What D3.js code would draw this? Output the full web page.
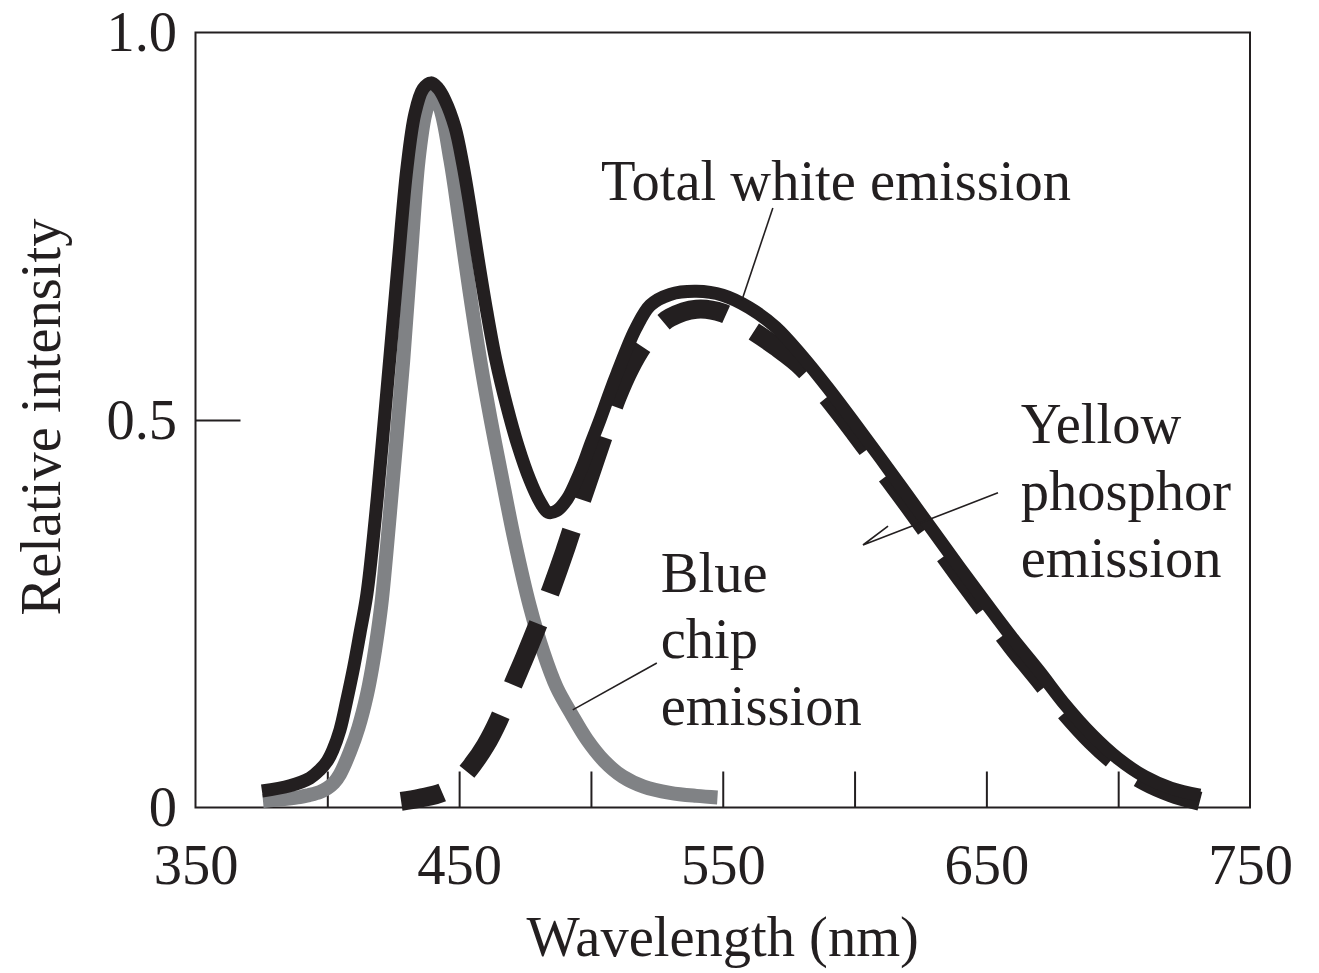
<!DOCTYPE html>
<html>
<head>
<meta charset="utf-8">
<script src="https://cdnjs.cloudflare.com/ajax/libs/d3/7.8.5/d3.min.js"></script>
<style>
  body { margin: 0; background: #fff; }
  svg text { font-family: "Liberation Serif", "Times New Roman", serif; fill: #231f20; }
</style>
</head>
<body>
<div id="chart"></div>
<script>
// values (wavelength in nm, relative intensity)
let wlBlue = [375.6, 389.6, 393, 397.2, 400, 402.5, 404.8, 408.6, 411.8, 415, 417, 419.2, 420.7, 424.8, 428.8, 431.7, 434.6, 437.2, 439.7, 442.5, 446.7, 450, 454, 458, 462, 466, 471, 476.8, 482, 487, 492.7, 498.4, 505, 512, 520, 530, 540, 548];
let blueChip = [0.0084, 0.0135, 0.016, 0.02, 0.025, 0.032, 0.043, 0.072, 0.103, 0.145, 0.18, 0.228, 0.268, 0.42, 0.577, 0.71, 0.835, 0.895, 0.919, 0.905, 0.835, 0.76, 0.665, 0.577, 0.50, 0.43, 0.345, 0.26, 0.20, 0.155, 0.12, 0.088, 0.06, 0.04, 0.027, 0.019, 0.015, 0.013];

let wlYellow = [428, 435, 444, 450, 455, 460, 465, 470, 475, 480, 485, 490, 495, 500, 505, 510, 515, 520, 525, 530, 540, 550, 560, 570, 580, 590, 600, 610, 620, 630, 640, 650, 660, 670, 680, 690, 700, 710, 720, 731];
let yellowPhosphor = [0.008, 0.012, 0.02, 0.035, 0.055, 0.08, 0.113, 0.155, 0.195, 0.237, 0.282, 0.33, 0.382, 0.432, 0.482, 0.53, 0.568, 0.597, 0.618, 0.632, 0.643, 0.638, 0.618, 0.595, 0.568, 0.528, 0.484, 0.438, 0.392, 0.345, 0.298, 0.252, 0.207, 0.165, 0.123, 0.086, 0.056, 0.034, 0.019, 0.008];

let wlTotal = [375.2, 385.8, 393.4, 397, 400, 402.1, 404.8, 407.4, 410.1, 412.4, 415, 418.1, 420.7, 423.7, 426.8, 430.2, 433.2, 436.3, 439.3, 442, 444.6, 448.4, 451.4, 454.1, 457.1, 460.5, 463.9, 468.1, 472.3, 476.8, 480.6, 483.7, 487, 491, 494, 497, 500, 503.4, 507, 510, 513.6, 517, 522.5, 530, 540, 550, 560, 570, 580, 590, 600, 610, 620, 630, 640, 650, 660, 670, 680, 690, 700, 710, 720, 731];
let totalWhite = [0.0213, 0.028, 0.038, 0.048, 0.06, 0.074, 0.10, 0.1387, 0.1826, 0.2252, 0.275, 0.37, 0.465, 0.58, 0.70, 0.825, 0.895, 0.927, 0.935, 0.928, 0.913, 0.878, 0.83, 0.776, 0.71, 0.64, 0.578, 0.518, 0.467, 0.423, 0.395, 0.381, 0.383, 0.398, 0.418, 0.442, 0.47, 0.50, 0.534, 0.561, 0.592, 0.618, 0.648, 0.662, 0.666, 0.661, 0.645, 0.62, 0.583, 0.541, 0.496, 0.45, 0.403, 0.356, 0.309, 0.263, 0.218, 0.176, 0.132, 0.094, 0.063, 0.04, 0.025, 0.016];

let xTickMarks = [400, 450, 500, 550, 600, 650, 700];
let xTickLabels = [350, 450, 550, 650, 750];
let yTickLabels = [0, 0.5, 1.0];

// set the dimensions and margins of the graph
let m = {top: 32.5, right: 69, bottom: 165.5, left: 195.5};
let w = 1319 - m.left - m.right;
let h = 973 - m.top - m.bottom;
let ink = "#231f20";
let fontSize = 56.5;

let svg = d3.select("#chart")
    .append("svg")
    .attr("width", w + m.left + m.right)
    .attr("height", h + m.top + m.bottom)
    .style("display", "block")
    .append("g")
    .attr("transform", "translate(" + m.left + "," + m.top + ")");

let x = d3.scaleLinear().domain([350, 750]).range([0, w]);
let y = d3.scaleLinear().domain([0, 1]).range([h, 0]);

// inward tick marks on the bottom
let xMarks = svg.append("g")
    .attr("transform", "translate(0," + h + ")")
    .call(d3.axisBottom(x).tickValues(xTickMarks).tickSize(-36).tickFormat(""));
xMarks.select(".domain").remove();
xMarks.selectAll("line").attr("stroke", ink).attr("stroke-width", 2);

// bottom labels
let xLab = svg.append("g")
    .attr("transform", "translate(0," + h + ")")
    .call(d3.axisBottom(x).tickValues(xTickLabels).tickSize(0).tickFormat(d3.format("d")));
xLab.select(".domain").remove();
xLab.selectAll("text")
    .attr("y", 76)
    .attr("dy", null)
    .attr("font-size", fontSize)
    .attr("font-family", null);

// left labels
let yLab = svg.append("g")
    .call(d3.axisLeft(y).tickValues(yTickLabels).tickSize(0).tickPadding(18.5)
        .tickFormat(d => d === 0 ? "0" : d.toFixed(1)));
yLab.select(".domain").remove();
yLab.selectAll("text")
    .attr("font-size", fontSize)
    .attr("font-family", null);

// the one tick on the left, at 0.5
let yMark = svg.append("g")
    .call(d3.axisLeft(y).tickValues([0.5]).tickSize(-45).tickFormat(""));
yMark.select(".domain").remove();
yMark.selectAll("line").attr("stroke", ink).attr("stroke-width", 2);

// frame
svg.append("rect")
    .attr("x", 0).attr("y", 0)
    .attr("width", w).attr("height", h)
    .attr("fill", "none")
    .attr("stroke", ink)
    .attr("stroke-width", 2);

let line = d3.line()
    .x(d => x(d[0]))
    .y(d => y(d[1]))
    .curve(d3.curveCatmullRom.alpha(0.5));

// blue chip (grey)
svg.append("path")
    .datum(d3.zip(wlBlue, blueChip))
    .attr("d", line)
    .attr("fill", "none")
    .attr("stroke", "#808285")
    .attr("stroke-width", 14);

// yellow phosphor (thick dashes)
let yellowPath = svg.append("path")
    .datum(d3.zip(wlYellow, yellowPhosphor))
    .attr("d", line)
    .attr("fill", "none")
    .attr("stroke", ink)
    .attr("stroke-width", 19);

// fit the dashes so that the line ends on a full dash
let L = yellowPath.node().getTotalLength();
let firstDash = 42, nPeriods = 13;
let period = (L - firstDash) / nPeriods;
let dash = period * 0.67;
yellowPath
    .attr("stroke-dasharray", dash + "," + (period - dash))
    .attr("stroke-dashoffset", dash - firstDash);

// total white emission
svg.append("path")
    .datum(d3.zip(wlTotal, totalWhite))
    .attr("d", line)
    .attr("fill", "none")
    .attr("stroke", ink)
    .attr("stroke-width", 13);

// leader lines
let leaders = [
    [[569, 0.7735], [557.2, 0.654]],
    [[525, 0.1865], [493.1, 0.126]],
    [[654.4, 0.406], [603.2, 0.3387], [612.7, 0.3632]]
];
svg.selectAll(".leader")
    .data(leaders)
    .enter()
    .append("path")
    .attr("class", "leader")
    .attr("d", d3.line().x(d => x(d[0])).y(d => y(d[1])))
    .attr("fill", "none")
    .attr("stroke", ink)
    .attr("stroke-width", 1.6);

// annotations
let notes = [
    {t: "Total white emission", wl: 503.8, v: 0.784},
    {t: "Yellow", wl: 663, v: 0.470},
    {t: "phosphor", wl: 663, v: 0.384},
    {t: "emission", wl: 663, v: 0.297},
    {t: "Blue", wl: 526.5, v: 0.278},
    {t: "chip", wl: 526.5, v: 0.193},
    {t: "emission", wl: 526.5, v: 0.106}
];
svg.selectAll(".note")
    .data(notes)
    .enter()
    .append("text")
    .attr("class", "note")
    .attr("x", d => x(d.wl))
    .attr("y", d => y(d.v))
    .attr("font-size", fontSize)
    .text(d => d.t);

// axis titles
svg.append("text")
    .attr("x", x(550))
    .attr("y", h + 148)
    .attr("text-anchor", "middle")
    .attr("font-size", fontSize)
    .text("Wavelength (nm)");

svg.append("text")
    .attr("transform", "translate(" + (60 - m.left) + "," + (h / 2 - 3) + ") rotate(-90)")
    .attr("text-anchor", "middle")
    .attr("font-size", fontSize)
    .text("Relative intensity");
</script>
</body>
</html>
